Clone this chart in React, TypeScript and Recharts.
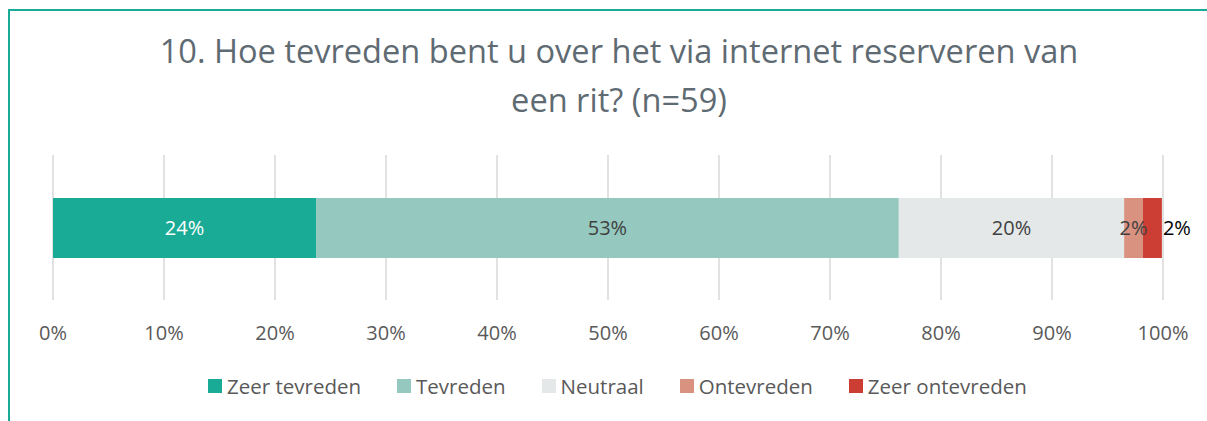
import { BarChart, Bar, XAxis, YAxis, CartesianGrid, LabelList } from "recharts";

const categories = ["Zeer tevreden", "Tevreden", "Neutraal", "Ontevreden", "Zeer ontevreden"];
const keys = ["zeerTevreden", "tevreden", "neutraal", "ontevreden", "zeerOntevreden"];
const percentages = [23.7, 52.5, 20.3, 1.7, 1.7];
const colors = ["#1aab96", "#95c9bf", "#e4e8e8", "#d99180", "#cc3d33"];
const labelColors = ["#ffffff", "#404040", "#404040", "#404040", "#000000"];
const xTicks = [0, 10, 20, 30, 40, 50, 60, 70, 80, 90, 100];

const row: Record<string, any> = { name: "Q10" };
keys.forEach((k, i) => {
  row[k] = percentages[i];
});
const chartData = [row];

const FONT = "'Open Sans', 'Noto Sans', sans-serif";

const ChartLegend = () => (
  <div
    style={{
      position: "absolute",
      left: 208,
      top: 372,
      display: "flex",
      gap: 36,
      fontFamily: FONT,
      fontSize: 20.5,
      color: "#595959",
      whiteSpace: "nowrap",
    }}
  >
    {categories.map((c, i) => (
      <div key={c} style={{ display: "flex", alignItems: "center", gap: 5 }}>
        <span style={{ width: 14, height: 14, background: colors[i], display: "inline-block" }} />
        <span>{c}</span>
      </div>
    ))}
  </div>
);

export default function App() {
  return (
    <div
      style={{
        position: "absolute",
        left: 0,
        top: 0,
        width: 1207,
        height: 421,
        overflow: "hidden",
        background: "#ffffff",
      }}
    >
      <div
        style={{
          position: "absolute",
          left: 8,
          top: 9,
          width: 1400,
          height: 600,
          borderLeft: "2px solid #1aab96",
          borderTop: "2px solid #1aab96",
        }}
      />
      <div
        style={{
          position: "absolute",
          left: 119,
          top: 26,
          width: 1000,
          textAlign: "center",
          fontFamily: FONT,
          fontSize: 32.6,
          lineHeight: "49px",
          color: "#5f6b73",
          whiteSpace: "nowrap",
        }}
      >
        <div>10. Hoe tevreden bent u over het via internet reserveren van</div>
        <div>een rit? (n=59)</div>
      </div>
      <BarChart
        width={1207}
        height={421}
        data={chartData}
        layout="vertical"
        margin={{ top: 155, right: 44, bottom: 81, left: 53 }}
        style={{ position: "absolute", left: 0, top: 0 }}
      >
        <CartesianGrid horizontal={false} stroke="#d9d9d9" strokeWidth={1.5} />
        <XAxis
          type="number"
          domain={[0, 100]}
          ticks={xTicks}
          tickFormatter={(v: number) => `${v}%`}
          axisLine={false}
          tickLine={false}
          tickSize={0}
          tickMargin={26}
          height={40}
          interval={0}
          tick={{ fill: "#595959", fontSize: 20, fontFamily: FONT }}
        />
        <YAxis type="category" dataKey="name" hide />
        {keys.map((k, i) => (
          <Bar
            key={k}
            dataKey={k}
            name={categories[i]}
            stackId="a"
            fill={colors[i]}
            barSize={60}
            isAnimationActive={false}
          >
            <LabelList
              dataKey={k}
              position={i === keys.length - 1 ? "right" : "center"}
              offset={1}
              formatter={(v: any) => `${Math.round(Number(v))}%`}
              fill={labelColors[i]}
              style={{ fontSize: 20, fontFamily: FONT }}
            />
          </Bar>
        ))}
      </BarChart>
      <ChartLegend />
    </div>
  );
}
